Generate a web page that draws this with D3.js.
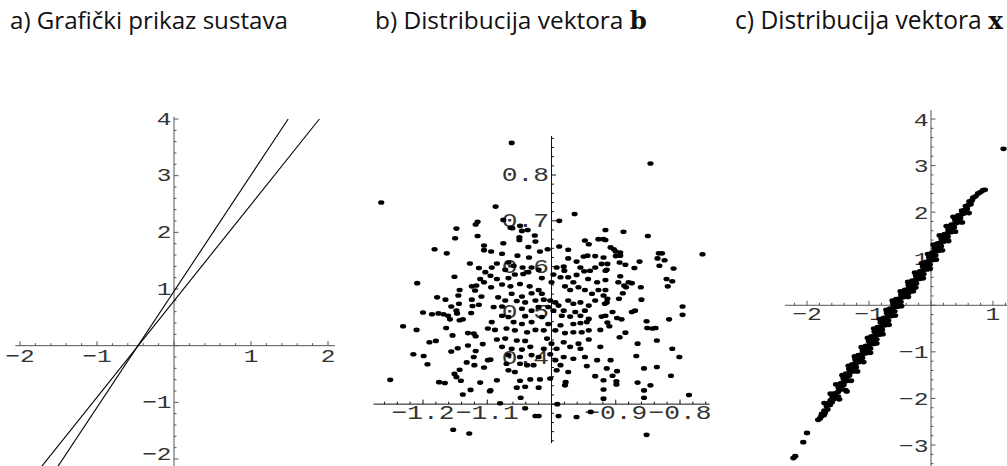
<!DOCTYPE html>
<html>
<head>
<meta charset="utf-8">
<title>Distribucija vektora</title>
<script src="https://cdn.jsdelivr.net/npm/d3@7/dist/d3.min.js"></script>
<style>
  body { margin: 0; background: #fff; }
  svg { display: block; }
  .tick-label { font-family: "Liberation Mono", "DejaVu Sans Mono", monospace; fill: #333; }
  .title { font-family: "Open Sans", "DejaVu Sans", sans-serif; fill: #111; }
</style>
</head>
<body>
<div id="chart"></div>
<script>
// panel a: the two lines of the system, y = m*x + c
const lineSlopes = [2.05, 1.70];
const lineIntercepts = [0.96, 0.79];

// tick labels (the one at the axis crossing is left out, as in the original)
const aTicksX = [-2, -1, 1, 2];
const aTicksY = [-2, -1, 1, 2, 3, 4];
const bTicksX = [-1.2, -1.1, -0.9, -0.8];
const bTicksY = [0.4, 0.5, 0.6, 0.7, 0.8];
const cTicksX = [-2, -1, 1];
const cTicksY = [-3, -2, -1, 1, 2, 3, 4];

const titles = ["a) Grafički prikaz sustava", "b) Distribucija vektora ", "c) Distribucija vektora "];
const titleBold = ["", "b", "x"];

// panel b: samples of vector b
const vectorB = [
  [-1.265,0.740],[-1.115,0.698],[-1.118,0.692],[-1.148,0.683],[-1.115,0.667],[-1.150,0.662],[-1.105,0.646],[-1.105,0.636],
  [-1.182,0.638],[-1.163,0.629],[-1.127,0.607],[-1.113,0.597],[-1.103,0.588],[-1.151,0.578],[-1.111,0.573],[-1.105,0.566],
  [-1.209,0.564],[-1.124,0.557],[-1.117,0.559],[-1.143,0.549],[-1.119,0.548],[-1.109,0.535],[-1.145,0.537],[-1.178,0.533],
  [-1.165,0.528],[-1.124,0.528],[-1.144,0.519],[-1.156,0.513],[-1.123,0.514],[-1.113,0.517],[-1.148,0.504],[-1.200,0.500],
  [-1.186,0.496],[-1.176,0.498],[-1.168,0.496],[-1.161,0.493],[-1.158,0.485],[-1.147,0.498],[-1.125,0.499],[-1.143,0.483],
  [-1.138,0.485],[-1.231,0.470],[-1.210,0.462],[-1.164,0.466],[-1.099,0.465],[-1.154,0.450],[-1.130,0.455],[-1.121,0.454],
  [-1.118,0.448],[-1.190,0.435],[-1.180,0.438],[-1.107,0.431],[-1.130,0.428],[-1.146,0.422],[-1.118,0.416],[-1.156,0.415],
  [-1.215,0.409],[-1.199,0.405],[-1.121,0.403],[-1.099,0.396],[-1.132,0.391],[-1.120,0.385],[-1.193,0.387],[-1.105,0.380],
  [-1.143,0.375],[-1.151,0.366],[-1.148,0.359],[-1.251,0.353],[-1.175,0.348],[-1.166,0.346],[-1.141,0.351],[-1.111,0.347],
  [-1.126,0.331],[-1.138,0.321],[-1.096,0.328],[-1.153,0.244],[-1.128,0.236],
  [-1.062,0.870],[-1.087,0.731],[-1.075,0.702],[-0.964,0.715],[-0.988,0.700],[-1.064,0.685],[-1.061,0.684],[-1.049,0.689],
  [-1.046,0.678],[-1.037,0.680],[-1.050,0.664],[-1.050,0.658],[-1.026,0.668],[-1.025,0.655],[-1.075,0.651],[-1.036,0.643],
  [-1.018,0.633],[-1.006,0.638],[-0.988,0.644],[-0.974,0.637],[-1.094,0.633],[-1.077,0.628],[-1.053,0.624],[-1.035,0.620],
  [-0.974,0.618],[-0.948,0.657],[-0.942,0.649],[-0.927,0.660],[-0.916,0.680],[-0.919,0.660],[-0.950,0.622],[-0.944,0.624],
  [-0.932,0.623],[-0.919,0.620],[-0.961,0.611],[-1.067,0.609],[-1.085,0.607],[-1.093,0.598],[-1.095,0.580],[-1.072,0.593],
  [-1.059,0.602],[-1.045,0.598],[-1.031,0.598],[-1.020,0.593],[-1.036,0.588],[-0.992,0.598],[-0.981,0.600],[-0.980,0.591],
  [-0.955,0.598],[-0.949,0.590],[-0.940,0.591],[-0.932,0.598],[-0.922,0.606],[-0.916,0.591],[-1.085,0.573],[-1.067,0.575],
  [-1.057,0.583],[-1.044,0.584],[-1.015,0.575],[-0.997,0.583],[-1.000,0.566],[-0.986,0.577],[-0.974,0.577],[-0.966,0.566],
  [-0.961,0.582],[-0.943,0.573],[-0.929,0.566],[-0.916,0.571],[-1.094,0.555],[-1.077,0.561],[-1.064,0.557],[-1.049,0.562],
  [-1.034,0.557],[-1.020,0.549],[-1.062,0.541],[-1.046,0.535],[-1.031,0.542],[-1.015,0.541],[-0.979,0.557],[-0.971,0.549],
  [-0.958,0.555],[-0.948,0.549],[-0.937,0.541],[-0.927,0.549],[-0.919,0.537],[-1.083,0.533],[-1.072,0.526],[-1.054,0.525],
  [-1.041,0.522],[-1.025,0.526],[-1.012,0.528],[-1.002,0.526],[-0.994,0.522],[-1.005,0.512],[-0.989,0.515],[-0.974,0.526],
  [-0.966,0.519],[-0.955,0.522],[-0.942,0.515],[-0.932,0.526],[-0.917,0.519],[-1.090,0.512],[-1.077,0.513],[-1.046,0.508],
  [-1.031,0.504],[-1.020,0.512],[-0.997,0.504],[-0.981,0.504],[-0.963,0.501],[-0.948,0.504],[-1.077,0.493],[-1.067,0.490],
  [-1.041,0.492],[-1.015,0.490],[-0.984,0.493],[-0.971,0.491],[-0.955,0.493],[-0.942,0.486],[-0.922,0.491],[-1.093,0.479],
  [-1.059,0.479],[-1.046,0.475],[-1.031,0.479],[-1.005,0.475],[-0.986,0.472],[-0.966,0.475],[-0.955,0.477],[-0.945,0.479],
  [-1.088,0.462],[-1.070,0.465],[-1.057,0.461],[-1.038,0.457],[-1.025,0.462],[-1.012,0.461],[-0.994,0.461],[-0.979,0.455],
  [-0.966,0.457],[-0.953,0.457],[-0.942,0.461],[-0.924,0.462],[-1.085,0.441],[-1.072,0.443],[-1.054,0.439],[-1.041,0.438],
  [-1.007,0.443],[-1.000,0.432],[-0.981,0.435],[-0.958,0.432],[-0.942,0.441],[-1.077,0.425],[-1.062,0.421],[-1.046,0.419],
  [-1.033,0.425],[-1.012,0.421],[-0.992,0.421],[-0.971,0.425],[-0.955,0.421],[-0.924,0.425],[-1.067,0.407],[-1.049,0.403],
  [-1.031,0.407],[-1.020,0.403],[-1.002,0.409],[-0.981,0.403],[-0.966,0.399],[-0.948,0.403],[-0.929,0.396],[-1.095,0.397],
  [-1.070,0.388],[-1.049,0.388],[-1.038,0.385],[-1.028,0.385],[-0.994,0.396],[-0.986,0.385],[-0.945,0.383],[-0.914,0.378],
  [-1.067,0.374],[-1.057,0.370],[-1.002,0.356],[-0.992,0.374],[-0.974,0.370],[-0.932,0.361],[-0.919,0.352],[-1.085,0.352],
  [-1.049,0.351],[-1.033,0.354],[-1.018,0.354],[-0.978,0.348],[-1.054,0.336],[-1.041,0.338],[-1.020,0.336],[-0.979,0.341],
  [-1.095,0.330],[-0.919,0.332],[-1.048,0.314],[-1.080,0.302],[-0.919,0.312],[-1.041,0.291],[-1.025,0.274],[-1.020,0.274],
  [-0.989,0.274],[-0.961,0.272],[-0.991,0.300],[-0.939,0.283],
  [-0.846,0.825],[-0.888,0.676],[-0.850,0.667],[-0.916,0.658],[-0.908,0.642],[-0.903,0.638],[-0.900,0.633],[-0.893,0.631],
  [-0.893,0.624],[-0.900,0.623],[-0.833,0.629],[-0.828,0.629],[-0.835,0.618],[-0.824,0.614],[-0.765,0.627],[-0.894,0.609],
  [-0.885,0.604],[-0.863,0.611],[-0.913,0.606],[-0.914,0.593],[-0.871,0.597],[-0.832,0.602],[-0.810,0.596],[-0.893,0.579],
  [-0.896,0.566],[-0.887,0.559],[-0.884,0.555],[-0.880,0.566],[-0.875,0.564],[-0.889,0.542],[-0.916,0.549],[-0.861,0.555],
  [-0.821,0.573],[-0.812,0.568],[-0.819,0.557],[-0.895,0.530],[-0.860,0.528],[-0.913,0.530],[-0.914,0.522],[-0.796,0.513],
  [-0.875,0.501],[-0.870,0.504],[-0.905,0.501],[-0.916,0.493],[-0.898,0.488],[-0.891,0.485],[-0.913,0.478],[-0.910,0.470],
  [-0.852,0.481],[-0.851,0.466],[-0.843,0.465],[-0.838,0.466],[-0.817,0.485],[-0.796,0.495],[-0.894,0.446],[-0.885,0.456],
  [-0.836,0.439],[-0.866,0.432],[-0.812,0.421],[-0.868,0.405],[-0.801,0.403],[-0.908,0.396],[-0.898,0.372],[-0.856,0.378],
  [-0.836,0.381],[-0.905,0.362],[-0.814,0.362],[-0.899,0.350],[-0.899,0.343],[-0.866,0.347],[-0.846,0.341],[-0.856,0.330],
  [-0.856,0.314],[-0.786,0.320],[-0.852,0.233]
];

// panel c: samples of vector x (dense band)
const vectorX = [
  [-2.22,-3.28],[-2.19,-3.24],[-2.06,-2.94],[-2.00,-2.74],
  [-1.82,-2.46],[-1.79,-2.43],[-1.77,-2.38],[-1.73,-2.36],[-1.76,-2.33],[-1.71,-2.31],[-1.72,-2.26],[-1.67,-2.24],
  [-1.68,-2.17],[-1.63,-2.14],[-1.65,-2.10],[-1.60,-2.08],[-1.62,-2.04],[-1.57,-2.02],[-1.59,-1.97],[-1.54,-1.95],
  [-1.50,-1.96],[-1.55,-1.89],[-1.50,-1.86],[-1.47,-1.82],[-1.36,-1.85],[-1.49,-1.77],[-1.44,-1.74],[-1.41,-1.71],
  [-1.45,-1.67],[-1.40,-1.64],[-1.35,-1.62],[-1.41,-1.57],[-1.36,-1.54],[-1.32,-1.51],[-1.37,-1.47],[-1.31,-1.45],
  [-1.26,-1.42],[-1.32,-1.37],[-1.26,-1.35],[-1.21,-1.33],[-1.27,-1.27],[-1.21,-1.24],[-1.16,-1.22],[-1.22,-1.17],
  [-1.16,-1.15],[-1.11,-1.13],[-1.17,-1.07],[-1.11,-1.05],[-1.05,-1.03],[-1.10,-0.97],[-1.04,-0.95],[-0.98,-0.93],
  [-1.05,-0.87],[-0.99,-0.85],[-0.93,-0.83],[-1.00,-0.77],[-0.94,-0.75],[-0.88,-0.73],[-0.96,-0.67],[-0.90,-0.65],
  [-0.84,-0.63],[-0.91,-0.57],[-0.85,-0.55],[-0.79,-0.53],[-0.86,-0.47],[-0.80,-0.45],[-0.74,-0.43],[-0.81,-0.37],
  [-0.75,-0.35],[-0.69,-0.33],[-0.76,-0.27],[-0.70,-0.25],[-0.64,-0.23],[-0.71,-0.17],[-0.65,-0.15],[-0.59,-0.13],
  [-0.66,-0.07],[-0.60,-0.05],[-0.54,-0.03],[-0.61,0.03],[-0.55,0.05],[-0.49,0.07],[-0.56,0.13],[-0.50,0.15],
  [-0.45,0.17],[-0.48,0.23],[-0.42,0.25],[-0.36,0.27],[-0.42,0.33],[-0.36,0.35],[-0.30,0.37],[-0.29,0.30],
  [-0.36,0.43],[-0.30,0.45],[-0.24,0.47],[-0.30,0.53],[-0.24,0.55],[-0.18,0.57],[-0.24,0.63],[-0.18,0.65],
  [-0.12,0.67],[-0.18,0.73],[-0.13,0.75],[-0.07,0.77],[-0.13,0.83],[-0.08,0.85],[-0.02,0.87],[-0.08,0.93],
  [-0.03,0.95],[0.03,0.97],[-0.03,1.03],[0.02,1.05],[0.07,1.07],[0.02,1.13],[0.07,1.15],[0.12,1.17],
  [0.06,1.23],[0.11,1.25],[0.16,1.27],[0.11,1.33],[0.16,1.35],[0.21,1.37],[0.17,1.43],[0.22,1.45],
  [0.27,1.47],[0.22,1.53],[0.27,1.55],[0.32,1.57],[0.28,1.63],[0.33,1.65],[0.37,1.67],[0.33,1.73],
  [0.38,1.75],[0.42,1.77],[0.39,1.83],[0.43,1.85],[0.47,1.87],[0.44,1.93],[0.49,1.95],[0.53,1.97],
  [0.50,2.03],[0.55,2.05],[0.58,2.07],[0.56,2.13],[0.60,2.15],[0.64,2.17],[0.62,2.23],[0.66,2.25],
  [0.68,2.31],[0.72,2.34],[0.76,2.40],[0.80,2.43],[0.84,2.47],[0.87,2.48],[1.17,3.36],
  // samples along the left and right edges of the band
  [-1.72,-2.10],[-1.62,-1.90],[-1.53,-1.70],[-1.43,-1.50],[-1.33,-1.30],[-1.23,-1.10],[-1.12,-0.90],[-1.02,-0.70],
  [-0.92,-0.50],[-0.82,-0.30],[-0.72,-0.10],[-0.62,0.10],[-0.49,0.30],[-0.37,0.50],[-0.26,0.70],[-0.15,0.90],
  [-0.05,1.10],[0.04,1.30],[0.14,1.50],[0.25,1.70],[0.36,1.90],
  [-1.48,-2.02],[-1.38,-1.82],[-1.29,-1.62],[-1.19,-1.42],[-1.09,-1.22],[-0.98,-1.02],[-0.88,-0.82],[-0.78,-0.62],
  [-0.68,-0.42],[-0.58,-0.22],[-0.48,-0.02],[-0.37,0.18],[-0.25,0.38],[-0.13,0.58],[-0.02,0.78],[0.08,0.98],
  [0.18,1.18],[0.28,1.38],[0.39,1.58],[0.50,1.78],[0.61,1.98]
];

const W = 1007, H = 466;
const svg = d3.select("#chart").append("svg").attr("width", W).attr("height", H);

// one entry per panel: scales, axis crossing, axis extent, tick steps, label styling
const panels = [
  { x: d3.scaleLinear().domain([-2, 2]).range([20, 328]),
    y: d3.scaleLinear().domain([-2, 4]).range([459, 119]),
    origin: [0, 0], xExt: [-2.06, 2.09], yExt: [-2.14, 4.04], major: 1, minor: 0.2,
    ticksX: aTicksX, ticksY: aTicksY, axisColor: "#555", fs: 18.5, sx: 1.32, xlab: 16, ylab: 5.5 },
  { x: d3.scaleLinear().domain([-1.2, -0.8]).range([423, 680]),
    y: d3.scaleLinear().domain([0.4, 0.8]).range([358.3, 175]),
    origin: [-1.0, 0.3], xExt: [-1.277, -0.754], yExt: [0.215, 0.885], major: 0.1, minor: 0.02,
    ticksX: bTicksX, ticksY: bTicksY, axisColor: "#111", fs: 20.5, sx: 1.28, xlab: 15, ylab: 6 },
  { x: d3.scaleLinear().domain([-2, 1]).range([807, 993]),
    y: d3.scaleLinear().domain([-3, 4]).range([445, 119]),
    origin: [0, 0], xExt: [-2.355, 1.4], yExt: [-3.5, 4.19], major: 1, minor: 0.2,
    ticksX: cTicksX, ticksY: cTicksY, axisColor: "#555", fs: 19, sx: 1.3, xlab: 14.5, ylab: 6.5 }
];

function fmt(v) {
  return String(+v.toFixed(2)).replace("-", "\u2212");
}

function steps(lo, hi, step) {
  const a = Math.ceil(lo / step - 1e-9), b = Math.floor(hi / step + 1e-9);
  return d3.range(a, b + 1).map(i => i * step);
}

function isMajor(v, step) {
  return Math.abs(v / step - Math.round(v / step)) < 1e-6;
}

function drawAxes(g, p) {
  const x0 = p.x(p.origin[0]), y0 = p.y(p.origin[1]);

  // tick labels first, so points can sit on top of them
  p.ticksX.forEach(v => {
    g.append("text").attr("class", "tick-label")
      .attr("transform", `translate(${p.x(v)},${y0 + p.xlab}) scale(${p.sx},1)`)
      .attr("text-anchor", "middle").attr("font-size", p.fs)
      .text(fmt(v));
  });
  p.ticksY.forEach(v => {
    // keep the lowest label inside the picture
    const yy = Math.min(p.y(v) + p.ylab, H - 6);
    g.append("text").attr("class", "tick-label")
      .attr("transform", `translate(${x0 - 2.5},${yy}) scale(${p.sx},1)`)
      .attr("text-anchor", "end").attr("font-size", p.fs)
      .text(fmt(v));
  });

  const ax = g.append("g").attr("stroke", p.axisColor).attr("stroke-width", 1).attr("fill", "none");
  ax.append("line")
    .attr("x1", p.x(p.xExt[0])).attr("x2", p.x(p.xExt[1]))
    .attr("y1", y0).attr("y2", y0);
  ax.append("line")
    .attr("x1", x0).attr("x2", x0)
    .attr("y1", p.y(p.yExt[0])).attr("y2", p.y(p.yExt[1]));

  steps(p.xExt[0], p.xExt[1], p.minor).forEach(v => {
    const len = isMajor(v, p.major) ? 4.5 : 2.5;
    ax.append("line").attr("x1", p.x(v)).attr("x2", p.x(v)).attr("y1", y0).attr("y2", y0 - len);
  });
  steps(p.yExt[0], p.yExt[1], p.minor).forEach(v => {
    const len = isMajor(v, p.major) ? 4.5 : 2.5;
    ax.append("line").attr("x1", x0).attr("x2", x0 + len).attr("y1", p.y(v)).attr("y2", p.y(v));
  });
}

const gA = svg.append("g"), gB = svg.append("g"), gC = svg.append("g");

// panel a
drawAxes(gA, panels[0]);
{
  const p = panels[0];
  const yLo = p.yExt[0], yHi = 4.0;
  const segs = lineSlopes.map((m, i) => {
    const c = lineIntercepts[i];
    return [[(yLo - c) / m, yLo], [(yHi - c) / m, yHi]];
  });
  gA.selectAll("path.sys").data(segs).join("path")
    .attr("class", "sys")
    .attr("d", d3.line().x(d => p.x(d[0])).y(d => p.y(d[1])))
    .attr("fill", "none").attr("stroke", "#000").attr("stroke-width", 1.1);
}

// panel b
drawAxes(gB, panels[1]);
gB.selectAll("ellipse").data(vectorB).join("ellipse")
  .attr("cx", d => panels[1].x(d[0])).attr("cy", d => panels[1].y(d[1]))
  .attr("rx", 3.1).attr("ry", 2.3).attr("fill", "#000");

// panel c
drawAxes(gC, panels[2]);
gC.selectAll("ellipse").data(vectorX).join("ellipse")
  .attr("cx", d => panels[2].x(d[0])).attr("cy", d => panels[2].y(d[1]))
  .attr("rx", 3.2).attr("ry", 2.4).attr("fill", "#000");

// titles, sized so each spans the same width as in the original
const titleX = [10, 375, 735], titleW = [278, 272, 268];
titles.forEach((t, i) => {
  const txt = svg.append("text").attr("class", "title")
    .attr("x", titleX[i]).attr("y", 29).attr("font-size", 20);
  txt.append("tspan").text(t);
  if (titleBold[i]) {
    txt.append("tspan").attr("font-family", "'DejaVu Serif', serif").attr("font-weight", "bold").text(titleBold[i]);
  }
  const w = txt.node().getComputedTextLength();
  txt.attr("font-size", 20 * titleW[i] / w);
});
</script>
</body>
</html>
